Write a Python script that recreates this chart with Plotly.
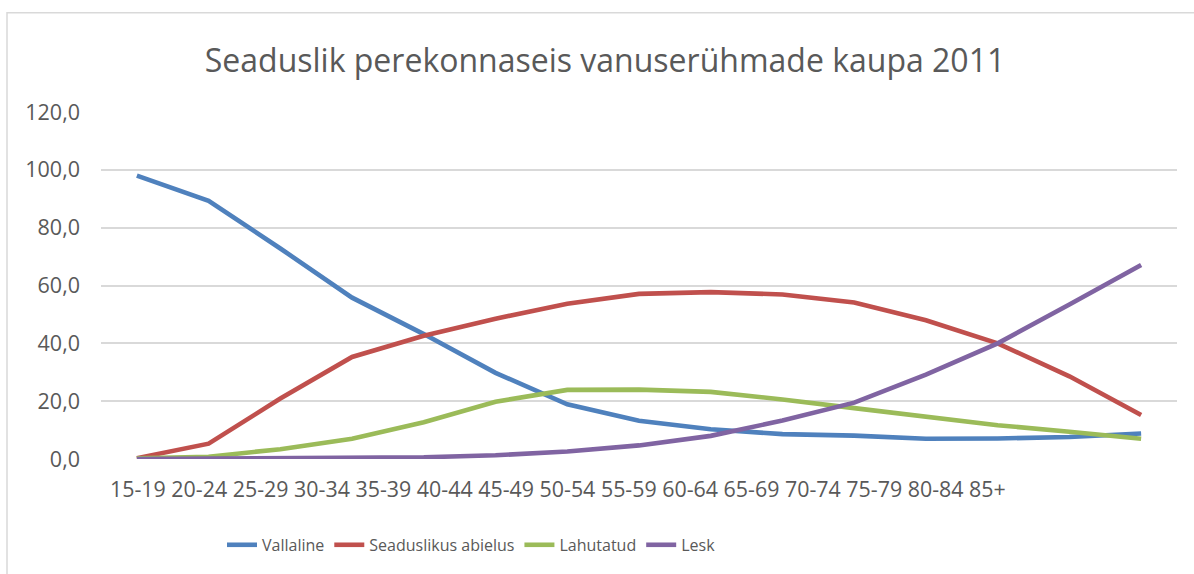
import plotly.graph_objects as go

age_groups = ["15-19", "20-24", "25-29", "30-34", "35-39", "40-44", "45-49", "50-54",
              "55-59", "60-64", "65-69", "70-74", "75-79", "80-84", "85+"]

vallaline = [98.0, 89.3, 72.8, 55.8, 43.2, 29.8, 18.9, 13.2, 10.3, 8.6, 8.1, 7.0, 7.1, 7.6, 8.8]
abielus = [0.3, 5.3, 20.9, 35.3, 42.6, 48.5, 53.7, 57.1, 57.7, 56.9, 54.1, 48.0, 40.0, 28.6, 15.2]
lahutatud = [0.2, 0.8, 3.4, 7.0, 12.7, 19.8, 23.9, 24.0, 23.2, 20.6, 17.6, 14.8, 11.7, 9.4, 7.0]
lesk = [0.0, 0.1, 0.2, 0.3, 0.6, 1.3, 2.6, 4.7, 8.0, 13.3, 19.5, 29.2, 40.0, 53.4, 67.1]

series = [
    ("Vallaline", vallaline, "#4F81BD"),
    ("Seaduslikus abielus", abielus, "#C0504D"),
    ("Lahutatud", lahutatud, "#9BBB59"),
    ("Lesk", lesk, "#8064A2"),
]

title_text = "Seaduslik perekonnaseis vanuserühmade kaupa 2011"
y_ticks = [0, 20, 40, 60, 80, 100, 120]

W, H = 1194, 574
L, R, T, B = 101, 17, 112, 112.5
pw = W - L - R
ph = H - T - B

def px_x(x):
    return (x - L) / pw

def px_y(y):
    return (H - B - y) / ph

fig = go.Figure()
for name, vals, col in series:
    fig.add_trace(go.Scatter(
        x=age_groups, y=vals, name=name, mode="lines",
        line=dict(color=col, width=4.6), cliponaxis=False,
    ))

text_col = "#595959"
fig.update_layout(
    width=W, height=H,
    margin=dict(l=L, r=R, t=T, b=B),
    paper_bgcolor="white", plot_bgcolor="white",
    separators=", ",
    font=dict(family="Open Sans", color=text_col),
    title=dict(text=title_text, x=605 / W, xanchor="center",
               y=1 - 61 / H, yanchor="middle", yref="container",
               font=dict(family="Open Sans", size=32, color=text_col)),
    xaxis=dict(type="category", range=[-0.5, 14.5], showticklabels=False,
               showgrid=False, zeroline=False, showline=False, ticks=""),
    yaxis=dict(range=[0, 120], tickvals=y_ticks, tickformat=".1f",
               showgrid=True, gridcolor="#d9d9d9", gridwidth=1.5,
               zeroline=False, showline=False, ticks="",
               ticklabelstandoff=20,
               tickfont=dict(family="Open Sans", size=21.5, color=text_col)),
    showlegend=True,
    legend=dict(orientation="h", x=px_x(222), xanchor="left",
                y=px_y(548), yanchor="middle",
                font=dict(family="Open Sans", size=16, color=text_col),
                itemwidth=30, bgcolor="rgba(0,0,0,0)"),
)

fig.add_annotation(
    text=" ".join(age_groups), xref="paper", yref="paper",
    x=px_x(108), y=px_y(491), xanchor="left", yanchor="middle",
    showarrow=False, font=dict(family="Open Sans", size=21.4, color=text_col),
)

fig.add_shape(type="rect", xref="paper", yref="paper",
              x0=px_x(7), x1=px_x(1205), y0=px_y(590), y1=px_y(12),
              line=dict(color="#d9d9d9", width=1.5), fillcolor="rgba(0,0,0,0)",
              layer="below")

fig.write_html("out.html", config={"displayModeBar": False},
               post_script="document.body.style.margin='0';")
